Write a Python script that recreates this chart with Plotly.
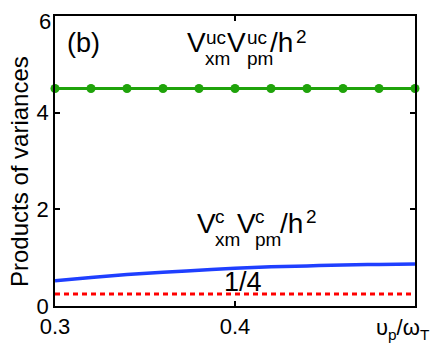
import plotly.graph_objects as go

# frequency ratio nu_p / omega_T
x_vals = [0.30, 0.32, 0.34, 0.36, 0.38, 0.40, 0.42, 0.44, 0.46, 0.48, 0.50]
# uncorrelated product V_xm^uc V_pm^uc / h^2
uc_vals = [4.5, 4.5, 4.5, 4.5, 4.5, 4.5, 4.5, 4.5, 4.5, 4.5, 4.5]
# correlated product V_xm^c V_pm^c / h^2
c_vals = [0.52, 0.59, 0.65, 0.70, 0.74, 0.78, 0.81, 0.83, 0.85, 0.86, 0.87]
# lower bound 1/4
bound_vals = [0.25] * len(x_vals)

x_ticks = [0.3, 0.4, 0.5]
x_ticktext = ["0.3", "0.4", ""]
y_ticks = [0, 2, 4, 6]
y_ticktext = ["0", "2", "4", ""]  # top label "6" is drawn separately, nudged down

FONT = "Liberation Sans, Arial, sans-serif"

# page body has an 8px margin, so the figure is shifted; work in screen pixels
OFF = 8
W, H = 443 - OFF, 346 - OFF
L, R, T, B = 55, 415, 16, 306  # plot area in screen pixels


def px(xp, yp):
    return (xp - L) / (R - L), (B - yp) / (B - T)


fig = go.Figure()

fig.add_trace(go.Scatter(
    x=x_vals, y=bound_vals, mode="lines",
    line=dict(color="#ff0000", width=3, dash="5px,4px"),
    cliponaxis=False,
))
fig.add_trace(go.Scatter(
    x=x_vals, y=c_vals, mode="lines", line_shape="spline",
    line=dict(color="#1f3fff", width=3.5),
    cliponaxis=False,
))
fig.add_trace(go.Scatter(
    x=x_vals, y=uc_vals, mode="lines+markers",
    line=dict(color="#1fa30a", width=3),
    marker=dict(color="#1fa30a", size=9),
    cliponaxis=False,
))

# text pieces: (text, left px, center y px, size)
pieces = [
    ("(b)", 65, 43, 27),
    ("V", 185, 43, 28), ("uc", 204, 37, 19), ("xm", 203, 59, 19),
    ("V", 225, 43, 28), ("uc", 245, 37, 19), ("pm", 245, 59, 19),
    ("/h", 268, 43, 28), ("2", 294, 36, 19),
    ("V", 195, 223, 28), ("c", 213, 217, 19), ("xm", 213, 239, 19),
    ("V", 235, 223, 28), ("c", 253, 217, 19), ("pm", 253, 239, 19),
    ("/h", 278, 223, 28), ("2", 304, 216, 19),
]
annotations = []
for text, xp, yp, size in pieces:
    ax, ay = px(xp, yp)
    annotations.append(dict(
        text=text, x=ax, y=ay, xref="paper", yref="paper",
        xanchor="left", yanchor="middle", showarrow=False,
        font=dict(size=size, color="black", family=FONT),
    ))

ax, ay = px(53, 21)
annotations.append(dict(text="6", x=ax, y=ay, xref="paper", yref="paper",
                        xanchor="right", yanchor="middle", showarrow=False,
                        font=dict(size=22, color="black", family=FONT)))
ax, ay = px(243, 282)
annotations.append(dict(text="1/4", x=ax, y=ay, xref="paper", yref="paper",
                        xanchor="center", yanchor="middle", showarrow=False,
                        font=dict(size=27, color="black", family=FONT)))
ax, ay = px(403, 313)
annotations.append(dict(text="υ<sub>p</sub>/ω<sub>T</sub>", x=ax, y=ay,
                        xref="paper", yref="paper", xanchor="center", yanchor="top",
                        showarrow=False, font=dict(size=22, color="black", family=FONT)))
ax, ay = px(19, 172)
annotations.append(dict(text="Products of variances", x=ax, y=ay,
                        xref="paper", yref="paper", xanchor="center", yanchor="middle",
                        textangle=-90, showarrow=False,
                        font=dict(size=24, color="black", family=FONT)))

fig.update_layout(
    width=W, height=H,
    margin=dict(l=L - OFF, r=W - (R - OFF), t=T - OFF, b=H - (B - OFF)),
    plot_bgcolor="white", paper_bgcolor="white",
    showlegend=False,
    font=dict(family=FONT, size=22, color="black"),
    annotations=annotations,
)
fig.update_xaxes(
    range=[0.3, 0.5], tickvals=x_ticks, ticktext=x_ticktext,
    showgrid=False, zeroline=False, showline=True, linecolor="black", linewidth=1.5,
    mirror="ticks", ticks="inside", ticklen=5, tickcolor="black", tickwidth=1.5,
    automargin=False,
)
fig.update_yaxes(
    range=[0, 6], tickvals=y_ticks, ticktext=y_ticktext,
    showgrid=False, zeroline=False, showline=True, linecolor="black", linewidth=1.5,
    mirror="ticks", ticks="inside", ticklen=5, tickcolor="black", tickwidth=1.5,
    automargin=False,
)

fig.write_html("out.html")
